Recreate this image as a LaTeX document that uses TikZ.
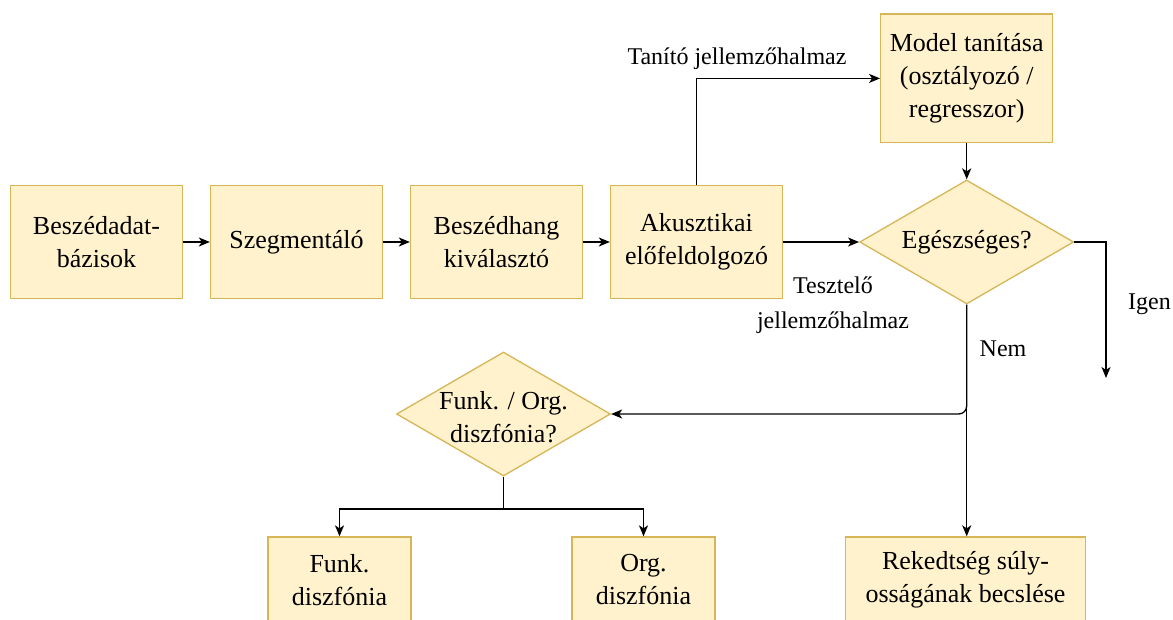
\documentclass[tikz,border=0pt]{standalone}
\usepackage{fontspec}
\setmainfont{Liberation Serif}
\usetikzlibrary{arrows.meta,shapes.geometric}
\definecolor{boxfill}{HTML}{FFF2CC}
\definecolor{boxline}{HTML}{D6B656}
\tikzset{
  stepbox/.style={draw=boxline, fill=boxfill, line width=1.3pt, align=center,
    inner sep=0pt, font=\fontsize{26}{33}\selectfont},
  decision/.style={diamond, draw=boxline, fill=boxfill, line width=1.3pt,
    inner sep=0pt, minimum width=214pt, minimum height=124pt},
  dtext/.style={align=center, font=\fontsize{26}{33}\selectfont},
  lbl/.style={align=center, font=\fontsize{24}{35}\selectfont},
  conn/.style={line width=1.3pt, draw=black},
  arr/.style={conn, -{Stealth[length=11pt,width=9pt,inset=3pt]}},
}
\begin{document}
\begin{tikzpicture}[x=1pt,y=-1pt]
\useasboundingbox (0,0) rectangle (1173,619);
\fill[white] (0,0) rectangle (1173,619);
\clip (0,0) rectangle (1173,619);

\node[stepbox, minimum width=172pt, minimum height=113pt] (b1) at (96.5,242) {Beszédadat-\\bázisok};
\node[stepbox, minimum width=172pt, minimum height=113pt] (b2) at (296.5,242) {Szegmentáló};
\node[stepbox, minimum width=172pt, minimum height=113pt] (b3) at (496.5,242) {Beszédhang\\kiválasztó};
\node[stepbox, minimum width=172pt, minimum height=113pt] (b4) at (696.5,242) {Akusztikai\\előfeldolgozó};
\node[stepbox, minimum width=172pt, minimum height=128.7pt] (model) at (966.7,78.4) {Model tanítása\\(osztályozó /\\regresszor)};

\node[decision] (q1) at (966.7,242) {};
\node[dtext] (q1t) at (q1.center) {Egészséges?};
\node[decision] (q2) at (503.5,414) {};
\node[dtext] (q2t) at (503.5,417) {Funk. / Org.\\diszfónia?};

\node[stepbox, minimum width=143pt, minimum height=86pt] (funk) at (339.5,580) {Funk.\\diszfónia};
\node[stepbox, minimum width=143pt, minimum height=86pt] (org) at (643.5,580) {Org.\\diszfónia};
\node[stepbox, minimum width=240pt, minimum height=86pt] (rek) at (965.5,580) {Rekedtség súly-\\osságának becslése};

\coordinate (igenend) at (1106,378);
\coordinate (split) at (503.5,509);

\draw[arr] (b1.east) -- (b2.west);
\draw[arr] (b2.east) -- (b3.west);
\draw[arr] (b3.east) -- (b4.west);
\draw[arr] (b4.north) |- (model.west);
\draw[arr] (b4.east) -- (q1.west);
\draw[arr] (model.south) -- (q1.north);
\draw[arr] (q1.east) -| (igenend);
\draw[arr] (q1.south) -- (q1.south |- rek.north);
\draw[arr, rounded corners=8pt] (q1.south) |- (q2.east);
\draw[conn] (q2.south) -- (split);
\draw[arr] (split) -| (funk.north);
\draw[arr] (split) -| (org.north);

\node[lbl] (ltanito) at (737,59) {Tanító jellemzőhalmaz};
\node[lbl] (lteszt) at (833,305) {Tesztelő\\jellemzőhalmaz};
\node[lbl, anchor=west, inner sep=0pt] (ligen) at (1128,304) {Igen};
\node[lbl] (lnem) at (1003,349) {Nem};
\end{tikzpicture}
\end{document}
